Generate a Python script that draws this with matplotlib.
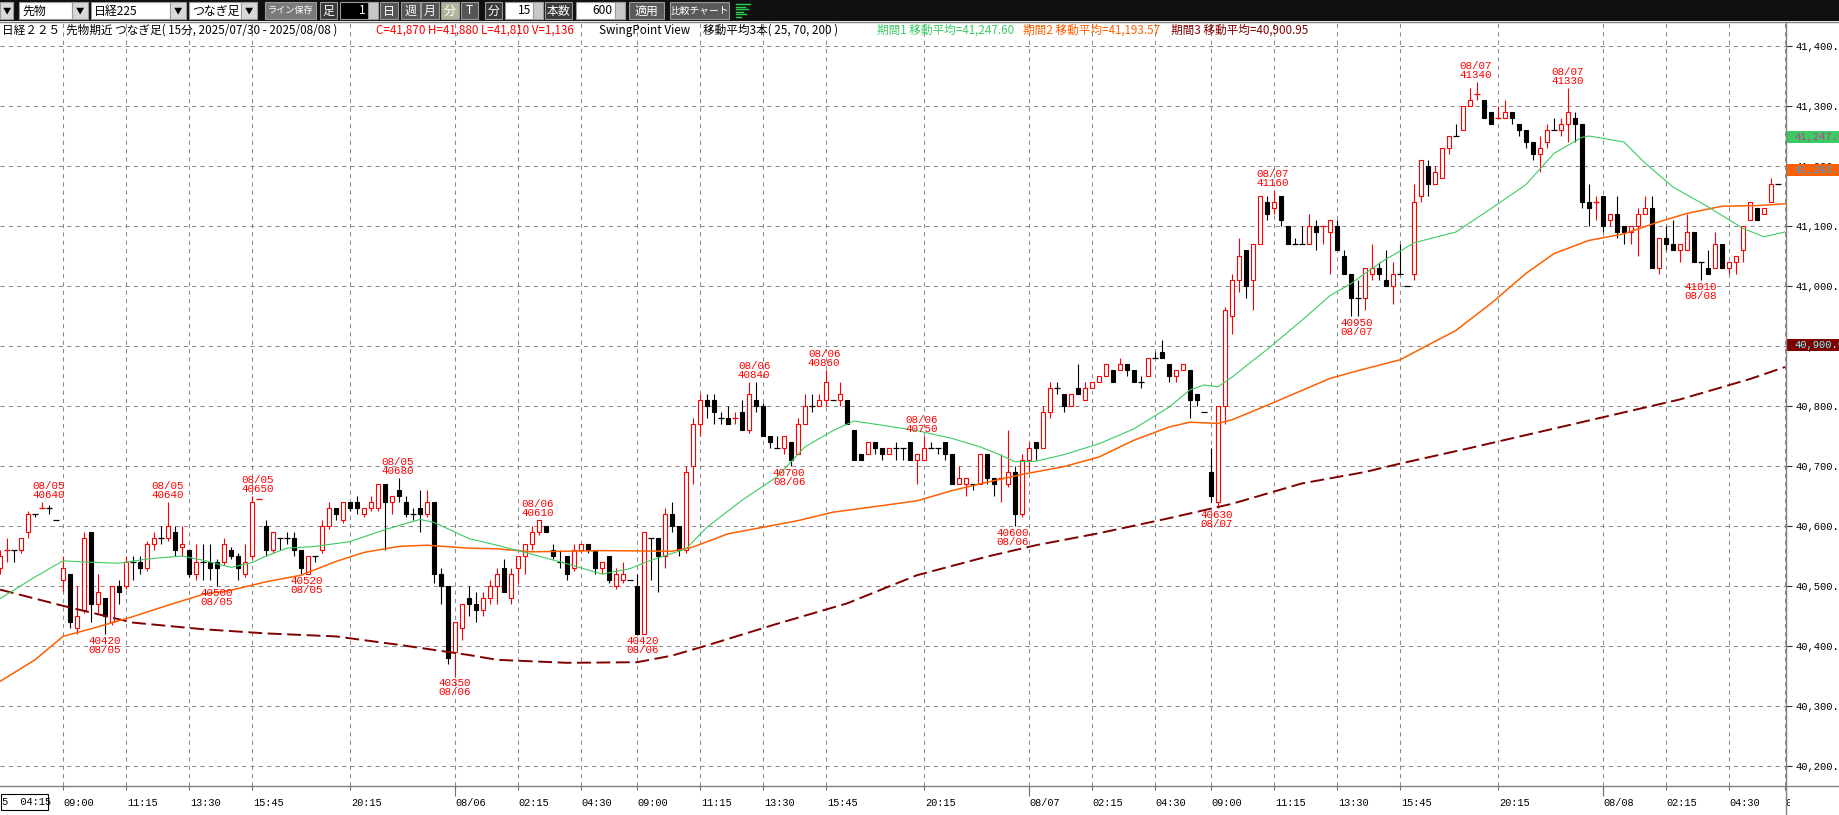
import matplotlib
matplotlib.use('Agg')
import matplotlib.pyplot as plt
import matplotlib.transforms as mtransforms
from matplotlib.patches import Rectangle
from matplotlib.ticker import FuncFormatter
from matplotlib.transforms import Bbox
import numpy as np

plt.rcParams['lines.scale_dashes'] = False
JP = ['Noto Sans CJK JP', 'DejaVu Sans']
MONO = ['Liberation Mono', 'DejaVu Sans Mono']
plt.rcParams['font.family'] = JP

W, H, DPI = 1840, 815, 100

# ---- 15 minute bars, 08/05 04:15 .. 08/08 08:45 ----
opens = [
    40530, 40560, 40560, 40560, 40590, 40620, 40630, 40630, 40610, 40510,
    40520, 40430, 40460, 40590, 40470, 40480, 40440, 40500, 40500, 40540,
    40540, 40530, 40570, 40580, 40580, 40590, 40565, 40560, 40520, 40540,
    40540, 40540, 40540, 40560, 40550, 40520, 40550, 40645, 40600, 40560,
    40580, 40580, 40580, 40560, 40520, 40550, 40560, 40600, 40630, 40610,
    40640, 40640, 40620, 40630, 40630, 40670, 40640, 40660, 40640, 40620,
    40630, 40620, 40640, 40520, 40500, 40390, 40430, 40480, 40470, 40460,
    40480, 40500, 40530, 40480, 40530, 40550, 40570, 40590, 40600, 40560,
    40540, 40550, 40530, 40560, 40570, 40560, 40530, 40550, 40500, 40510,
    40510, 40500, 40420, 40580, 40580, 40550, 40620, 40600, 40560, 40700,
    40770, 40810, 40810, 40780, 40780, 40780, 40790, 40760, 40810, 40800,
    40750, 40730, 40730, 40740, 40720, 40770, 40800, 40800, 40810, 40810,
    40810, 40810, 40760, 40720, 40720, 40740, 40730, 40720, 40730, 40730,
    40740, 40710, 40710, 40730, 40730, 40740, 40720, 40670, 40670, 40670,
    40670, 40720, 40680, 40680, 40670, 40690, 40620, 40710, 40740, 40730,
    40790, 40830, 40820, 40800, 40830, 40810, 40830, 40840, 40850, 40860,
    40860, 40870, 40860, 40840, 40850, 40880, 40890, 40870, 40850, 40860,
    40860, 40820, 40790, 40690, 40640, 40800, 40950, 41010, 41060, 41010,
    41070, 41140, 41130, 41150, 41100, 41070, 41070, 41070, 41100, 41100,
    41090, 41100, 41050, 41020, 40980, 40980, 41020, 41030, 41010, 41000,
    41020, 41000, 41020, 41150, 41200, 41170, 41180, 41230, 41250, 41260,
    41300, 41320, 41310, 41290, 41280, 41280, 41290, 41270, 41260, 41240,
    41220, 41240, 41260, 41260, 41270, 41280, 41270, 41140, 41140, 41150,
    41110, 41120, 41100, 41090, 41100, 41120, 41130, 41030, 41080, 41070,
    41060, 41060, 41090, 41040, 41030, 41030, 41070, 41030, 41040, 41060,
    41110, 41130, 41120, 41140, 41170,
]
highs = [
    40560, 40580, 40560, 40580, 40625, 40620, 40640, 40635, 40610, 40550,
    40520, 40500, 40590, 40590, 40520, 40480, 40500, 40510, 40550, 40550,
    40550, 40575, 40590, 40600, 40640, 40600, 40600, 40560, 40570, 40570,
    40570, 40545, 40580, 40565, 40555, 40570, 40650, 40645, 40610, 40590,
    40580, 40590, 40590, 40560, 40550, 40550, 40610, 40640, 40630, 40640,
    40640, 40650, 40630, 40650, 40670, 40670, 40650, 40680, 40650, 40630,
    40660, 40660, 40640, 40530, 40500, 40440, 40470, 40500, 40490, 40490,
    40510, 40530, 40545, 40530, 40550, 40570, 40600, 40610, 40600, 40570,
    40560, 40550, 40570, 40570, 40570, 40560, 40540, 40550, 40530, 40540,
    40510, 40520, 40590, 40580, 40580, 40630, 40640, 40600, 40700, 40780,
    40820, 40820, 40820, 40790, 40800, 40790, 40810, 40840, 40840, 40805,
    40750, 40750, 40750, 40740, 40780, 40820, 40820, 40820, 40860, 40810,
    40840, 40810, 40760, 40720, 40740, 40740, 40730, 40730, 40740, 40730,
    40740, 40720, 40750, 40740, 40730, 40740, 40720, 40700, 40680, 40670,
    40720, 40720, 40680, 40720, 40760, 40700, 40720, 40740, 40740, 40800,
    40840, 40840, 40820, 40820, 40870, 40840, 40840, 40850, 40870, 40860,
    40880, 40870, 40860, 40850, 40880, 40890, 40910, 40870, 40860, 40870,
    40860, 40820, 40790, 40730, 40800, 40965, 41020, 41080, 41060, 41070,
    41150, 41150, 41160, 41150, 41100, 41080, 41100, 41120, 41110, 41100,
    41110, 41110, 41060, 41020, 41010, 41030, 41070, 41040, 41060, 41040,
    41070, 41000, 41170, 41210, 41210, 41200, 41230, 41250, 41270, 41300,
    41330, 41340, 41310, 41290, 41300, 41310, 41290, 41270, 41260, 41240,
    41250, 41270, 41280, 41280, 41330, 41290, 41270, 41170, 41150, 41150,
    41120, 41150, 41100, 41100, 41130, 41150, 41150, 41080, 41100, 41110,
    41070, 41120, 41090, 41040, 41060, 41090, 41070, 41040, 41050, 41100,
    41140, 41130, 41130, 41180, 41170,
]
lows = [
    40520, 40540, 40540, 40555, 40580, 40615, 40630, 40620, 40610, 40490,
    40430, 40420, 40455, 40440, 40455, 40420, 40435, 40470, 40495, 40510,
    40520, 40525, 40560, 40570, 40575, 40550, 40550, 40515, 40510, 40510,
    40510, 40500, 40535, 40545, 40510, 40515, 40545, 40645, 40550, 40555,
    40560, 40570, 40550, 40520, 40520, 40540, 40555, 40595, 40610, 40605,
    40625, 40620, 40615, 40625, 40625, 40560, 40620, 40640, 40615, 40610,
    40590, 40615, 40505, 40470, 40370, 40350, 40410, 40450, 40440, 40450,
    40470, 40470, 40490, 40470, 40505, 40520, 40560, 40585, 40590, 40545,
    40530, 40510, 40525, 40555, 40555, 40520, 40520, 40505, 40495, 40505,
    40510, 40420, 40420, 40510, 40490, 40530, 40590, 40550, 40555, 40670,
    40750, 40780, 40770, 40770, 40770, 40770, 40760, 40755, 40790, 40750,
    40730, 40730, 40720, 40700, 40720, 40770, 40790, 40800, 40800, 40810,
    40800, 40770, 40710, 40710, 40720, 40720, 40710, 40720, 40710, 40710,
    40710, 40670, 40710, 40730, 40720, 40710, 40670, 40670, 40650, 40660,
    40670, 40670, 40650, 40640, 40665, 40600, 40615, 40690, 40710, 40730,
    40780, 40820, 40790, 40800, 40820, 40810, 40830, 40840, 40850, 40840,
    40860, 40850, 40840, 40830, 40850, 40880, 40880, 40840, 40840, 40860,
    40780, 40800, 40790, 40640, 40630, 40770, 40920, 40990, 40980, 40960,
    41070, 41110, 41120, 41100, 41070, 41070, 41070, 41070, 41060, 41070,
    41020, 41060, 41020, 40950, 40950, 40960, 41010, 41010, 41000, 40970,
    41020, 41000, 41010, 41140, 41150, 41170, 41180, 41220, 41250, 41260,
    41300, 41310, 41280, 41270, 41280, 41280, 41270, 41250, 41230, 41210,
    41190, 41230, 41260, 41250, 41240, 41240, 41130, 41100, 41110, 41090,
    41100, 41080, 41070, 41070, 41050, 41120, 41030, 41020, 41060, 41060,
    41040, 41060, 41040, 41010, 41020, 41030, 41030, 41020, 41020, 41040,
    41110, 41110, 41120, 41140, 41170,
]
closes = [
    40550, 40560, 40560, 40580, 40620, 40620, 40630, 40630, 40610, 40530,
    40440, 40450, 40580, 40470, 40490, 40450, 40500, 40490, 40540, 40540,
    40530, 40570, 40580, 40580, 40600, 40560, 40570, 40520, 40540, 40540,
    40530, 40530, 40570, 40550, 40530, 40540, 40640, 40645, 40560, 40590,
    40580, 40580, 40560, 40530, 40550, 40550, 40600, 40630, 40620, 40640,
    40630, 40630, 40630, 40640, 40670, 40640, 40650, 40650, 40620, 40620,
    40620, 40640, 40520, 40500, 40380, 40440, 40470, 40470, 40460, 40480,
    40500, 40520, 40490, 40520, 40550, 40570, 40590, 40610, 40590, 40550,
    40540, 40520, 40560, 40570, 40560, 40530, 40540, 40510, 40520, 40520,
    40510, 40420, 40590, 40580, 40550, 40620, 40600, 40560, 40690, 40770,
    40810, 40800, 40790, 40780, 40770, 40780, 40760, 40820, 40800, 40750,
    40740, 40730, 40750, 40710, 40770, 40800, 40800, 40810, 40840, 40810,
    40820, 40770, 40710, 40710, 40740, 40730, 40720, 40730, 40730, 40730,
    40710, 40720, 40730, 40730, 40730, 40720, 40670, 40680, 40680, 40670,
    40720, 40680, 40670, 40680, 40690, 40620, 40710, 40730, 40730, 40790,
    40830, 40830, 40800, 40820, 40820, 40830, 40840, 40850, 40870, 40840,
    40870, 40860, 40840, 40840, 40880, 40880, 40880, 40850, 40860, 40870,
    40810, 40810, 40790, 40650, 40800, 40960, 41010, 41050, 41000, 41070,
    41150, 41120, 41140, 41110, 41070, 41070, 41070, 41100, 41090, 41100,
    41110, 41060, 41020, 40980, 40980, 41030, 41030, 41020, 41000, 41020,
    41020, 41000, 41140, 41210, 41170, 41190, 41230, 41250, 41250, 41300,
    41310, 41320, 41280, 41270, 41280, 41290, 41280, 41260, 41240, 41220,
    41230, 41260, 41260, 41270, 41290, 41270, 41140, 41130, 41140, 41100,
    41120, 41090, 41090, 41100, 41120, 41130, 41030, 41080, 41070, 41060,
    41070, 41090, 41040, 41040, 41020, 41070, 41030, 41040, 41050, 41100,
    41140, 41110, 41130, 41170, 41170,
]
# doji bars drawn in red (the rest of the doji bars are black)
red_doji = [1, 6, 37, 105, 143, 189, 211, 214, 228]

# moving averages (bar index, value)
ma25_x = [0, 5, 9, 12, 17, 21, 26, 29, 33, 36, 38, 41, 45, 50, 55, 60, 62, 67, 71,
          76, 81, 86, 90, 93, 98, 101, 106, 111, 115, 119, 122, 126, 131, 136, 140,
          143, 145, 148, 152, 157, 162, 167, 170, 172, 174, 176, 179, 181, 186, 190,
          193, 195, 198, 200, 202, 208, 213, 218, 222, 226, 227, 232, 235, 239, 244,
          249, 252, 255]
ma25_y = [40479, 40515, 40542, 40540, 40538, 40545, 40550, 40543, 40531, 40539,
          40550, 40563, 40566, 40574, 40594, 40611, 40606, 40579, 40568, 40553,
          40537, 40520, 40529, 40543, 40562, 40598, 40643, 40682, 40732, 40759,
          40775, 40768, 40759, 40746, 40732, 40718, 40707, 40708, 40719, 40737,
          40762, 40798, 40827, 40835, 40832, 40848, 40876, 40894, 40943, 40984,
          41004, 41021, 41045, 41058, 41072, 41090, 41129, 41169, 41221, 41248,
          41250, 41240, 41205, 41165, 41132, 41096, 41082, 41090]
ma70_x = [0, 5, 9, 14, 19, 24, 29, 33, 38, 43, 48, 52, 57, 61, 67, 71, 76, 86, 96,
          99, 104, 109, 114, 119, 126, 131, 136, 141, 146, 152, 157, 162, 167, 170,
          174, 176, 181, 186, 190, 195, 200, 208, 213, 218, 222, 227, 232, 237, 241,
          246, 251, 255]
ma70_y = [40341, 40377, 40416, 40432, 40449, 40468, 40486, 40493, 40507, 40518,
          40541, 40556, 40566, 40568, 40563, 40562, 40557, 40559, 40558, 40565,
          40587, 40598, 40609, 40623, 40634, 40642, 40659, 40673, 40686, 40699,
          40715, 40743, 40765, 40773, 40771, 40777, 40801, 40826, 40846, 40862,
          40877, 40926, 40971, 41021, 41054, 41076, 41087, 41107, 41121, 41133,
          41134, 41137]
ma200_x = [0, 9, 19, 29, 38, 48, 57, 67, 71, 81, 91, 96, 101, 111, 121, 131, 141,
           148, 157, 167, 176, 186, 195, 200, 210, 220, 230, 240, 250, 255]
ma200_y = [40494, 40467, 40439, 40428, 40421, 40416, 40402, 40385, 40377, 40372,
           40373, 40384, 40401, 40437, 40471, 40518, 40549, 40568, 40588, 40613,
           40637, 40671, 40690, 40704, 40730, 40757, 40784, 40811, 40845, 40865]

# swing point labels
swing_x = [6.9, 14.9, 23.9, 30.9, 36.8, 43.8, 56.8, 64.9, 76.8, 91.8, 107.75,
           112.75, 117.75, 131.65, 144.65, 173.8, 181.8, 193.8, 210.8, 223.9, 242.9]
swing_p = [40640, 40420, 40640, 40500, 40650, 40520, 40680, 40350, 40610, 40420,
           40840, 40700, 40860, 40750, 40600, 40630, 41160, 40950, 41340, 41330, 41010]
swing_d = ['08/05', '08/05', '08/05', '08/05', '08/05', '08/05', '08/05', '08/06',
           '08/06', '08/06', '08/06', '08/06', '08/06', '08/06', '08/06', '08/07',
           '08/07', '08/07', '08/07', '08/07', '08/08']
swing_hi = [True, False, True, False, True, False, True, False, True, False, True,
            False, True, True, False, False, True, False, True, True, False]

tick_pos = [9, 18, 27, 36, 50, 65, 74, 83, 91, 100, 109, 118, 132, 147, 156, 165,
            173, 182, 191, 200, 214, 229, 238, 247, 255]
tick_lbl = ['09:00', '11:15', '13:30', '15:45', '20:15', '08/06', '02:15', '04:30',
            '09:00', '11:15', '13:30', '15:45', '20:15', '08/07', '02:15', '04:30',
            '09:00', '11:15', '13:30', '15:45', '20:15', '08/08', '02:15', '04:30', '09:00']
date_ticks = [65, 147, 229]

marker_vals = [41247.60, 41193.57, 40900.95]
marker_bg = ['#3ccb63', '#ff6000', '#800000']
marker_fg = ['#c03ca0', '#2a9cff', '#70ffff']

RED = '#ff0000'
GREEN = '#3ccb63'
ORANGE = '#ff6000'
DKRED = '#800000'
GRID = '#8a8a8a'

fig = plt.figure(figsize=(W / DPI, H / DPI), dpi=DPI, facecolor='white')
ax = fig.add_axes([0, (H - 786) / H, 1786 / W, (786 - 22) / H], zorder=1)
ax.set_xlim(0, 1786 / 7)
ax.set_ylim(40166.7, 41440)

o = np.array(opens, float)
hh = np.array(highs, float)
ll = np.array(lows, float)
c = np.array(closes, float)
idx = np.arange(len(o))
up = (c > o) | ((c == o) & np.isin(idx, red_doji))
col = np.where(up, RED, 'black')

ax.vlines(idx, ll, hh, colors=col, lw=0.8, zorder=3)
m = c > o
ax.bar(idx[m], (c - o)[m], bottom=o[m], width=0.64, facecolor='white',
       edgecolor=RED, lw=0.8, zorder=4)
m = c < o
ax.bar(idx[m], (o - c)[m], bottom=c[m], width=0.64, facecolor='black',
       edgecolor='black', lw=0.8, zorder=4)
m = c == o
ax.hlines(c[m], idx[m] - 0.36, idx[m] + 0.36, colors=col[m], lw=0.9, zorder=4)

ax.plot(ma200_x, ma200_y, color=DKRED, lw=1.4, ls=(0, (10, 4)), zorder=5)
ax.plot(ma70_x, ma70_y, color=ORANGE, lw=1.1, zorder=5)
ax.plot(ma25_x, ma25_y, color=GREEN, lw=0.8, zorder=5)

for x, p, d, hi in zip(swing_x, swing_p, swing_d, swing_hi):
    if hi:
        ax.text(x, p + 3, d + '\n' + str(p), color=RED, fontsize=7.8, family=MONO,
                ha='center', va='bottom', linespacing=0.95, zorder=6)
    else:
        ax.text(x, p - 3, str(p) + '\n' + d, color=RED, fontsize=7.8, family=MONO,
                ha='center', va='top', linespacing=0.95, zorder=6)

# grid + axes
ax.set_yticks(np.arange(40200, 41500, 100))
ax.yaxis.tick_right()
ax.yaxis.set_major_formatter(FuncFormatter(lambda v, _: f'{v:,.1f}'))
ax.tick_params(axis='y', direction='out', length=4.5, width=0.8, color='#303030',
               pad=2, labelsize=7.6)
for t in ax.get_yticklabels():
    t.set_family(MONO)

ax.set_xticks(tick_pos, labels=tick_lbl)
ax.xaxis.remove_overlapping_locs = False
ax.set_xticks(date_ticks, minor=True)
ax.tick_params(axis='x', which='major', direction='out', length=3, width=0.8,
               color='#707070', pad=6, labelsize=7.4)
ax.tick_params(axis='x', which='minor', direction='out', length=7, width=0.8,
               color='#707070')
shift = mtransforms.ScaledTranslation(0.8 / DPI, 0, fig.dpi_scale_trans)
for t in ax.get_xticklabels():
    t.set_family(MONO)
    t.set_horizontalalignment('left')
    t.set_transform(t.get_transform() + shift)
last = ax.get_xticklabels()[-1]
last.set_clip_on(True)
last.set_clip_box(Bbox([[1786, 0], [1790, 40]]))

ax.grid(True, which='major', color=GRID, lw=0.75, ls=(0, (3, 3)))
ax.set_axisbelow(True)
for s in ['left', 'top', 'right', 'bottom']:
    ax.spines[s].set_visible(False)

# price markers on the right axis
tr = mtransforms.blended_transform_factory(fig.transFigure, ax.transData)
for v, bg, fg in zip(marker_vals, marker_bg, marker_fg):
    ax.add_patch(Rectangle((1787 / W, v - 10), 60 / W, 20, transform=tr,
                           facecolor=bg, edgecolor='none', clip_on=False, zorder=7))
    ax.text(1795 / W, v, f'{v:,.2f}', transform=tr, color=fg, fontsize=7.6,
            family=MONO, va='center', ha='left', clip_on=False, zorder=8)

# ---- overlay: toolbar, header, frame lines ----
ov = fig.add_axes([0, 0, 1, 1], zorder=5)
ov.set_xlim(0, W)
ov.set_ylim(H, 0)
ov.axis('off')

ov.plot([0, W], [22, 22], color='#808080', lw=1)
ov.plot([0, W], [786, 786], color='#808080', lw=1)
ov.plot([1786.5, 1786.5], [22, H], color='#808080', lw=1)

ov.add_patch(Rectangle((0, 0), W, 21, facecolor='#101010', edgecolor='none'))


def box(x0, x1, fc, ec='#9a9a9a'):
    ov.add_patch(Rectangle((x0, 2), x1 - x0, 17, facecolor=fc, edgecolor=ec, lw=0.8))


def txt(x, s, color='white', ha='center', size=8.6):
    ov.text(x, 11, s, color=color, ha=ha, va='center', fontsize=size, family=JP)


box(0, 13, '#d8d8d8')
txt(6.5, '▼', 'black', size=6)
for x0, x1, s in [(19, 72, '先物'), (91, 170, '日経225'), (189, 241, 'つなぎ足')]:
    box(x0, x1, 'white')
    txt(x0 + 3, s, 'black', ha='left')
    box(x1, x1 + 16, '#d8d8d8')
    txt(x1 + 8, '▼', 'black', size=6)
box(265, 316, '#7a7a7a')
txt(290.5, 'ライン保存', size=6.6)
box(320, 337, '#3a3a3a')
txt(328.5, '足')
box(340, 378, 'black')
txt(366, '1', ha='right')
box(368, 378, '#c8c8c8')
for x0, x1, s, fc in [(380, 398, '日', '#555555'), (401, 420, '週', '#555555'),
                      (421, 439, '月', '#555555'), (441, 459, '分', '#b4b49c'),
                      (461, 478, 'T', '#555555')]:
    box(x0, x1, fc)
    txt((x0 + x1) / 2, s)
box(485, 502, '#3a3a3a')
txt(493.5, '分')
box(505, 543, 'white')
txt(531, '15', 'black', ha='right')
box(533, 543, '#c8c8c8')
box(545, 572, '#3a3a3a')
txt(558.5, '本数')
box(576, 625, 'white')
txt(613, '600', 'black', ha='right')
box(615, 625, '#c8c8c8')
box(629, 664, '#5a5a5a')
txt(646.5, '適用')
box(670, 729, '#5a5a5a')
txt(699.5, '比較チャート', size=7)
for k, wdt in enumerate([14, 9, 12, 7, 10, 5]):
    ov.plot([736, 736 + wdt], [4 + k * 2.6, 4 + k * 2.6], color='#30d050', lw=1)

hdr = [
    (2, '日経２２５', 'black'),
    (66, '先物期近 つなぎ足( 15分, 2025/07/30 - 2025/08/08 )', 'black'),
    (376, 'C=41,870 H=41,880 L=41,810 V=1,136', RED),
    (599, 'SwingPoint View', 'black'),
    (703, '移動平均3本( 25, 70, 200 )', 'black'),
    (877, '期間1 移動平均=41,247.60', GREEN),
    (1023, '期間2 移動平均=41,193.57', ORANGE),
    (1171, '期間3 移動平均=40,900.95', DKRED),
]
for x, s, colr in hdr:
    ov.text(x, 30.5, s, color=colr, fontsize=8.4, family=JP, ha='left', va='center')

ov.add_patch(Rectangle((0.5, 794), 48, 16, facecolor='white', edgecolor='black', lw=0.8))
ov.text(2, 802, '5  04:15', color='black', fontsize=7.4, family=MONO, ha='left', va='center')

fig.savefig('out.png', dpi=DPI, facecolor='white')
